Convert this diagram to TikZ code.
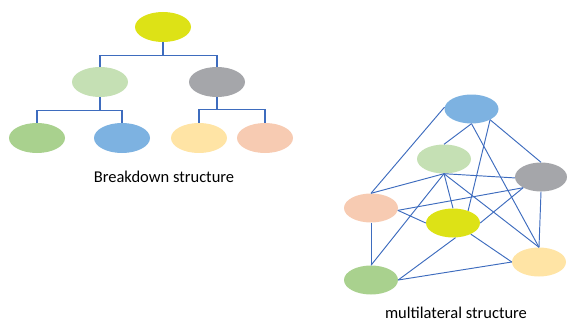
\documentclass[tikz,border=0pt]{standalone}
\usepackage{fontspec}
\setmainfont{Carlito}
\usetikzlibrary{shapes.geometric,calc}

\definecolor{cYellow}{RGB}{221,226,22}
\definecolor{cLGreen}{RGB}{197,224,180}
\definecolor{cGray}{RGB}{165,166,170}
\definecolor{cGreen}{RGB}{169,209,142}
\definecolor{cBlue}{RGB}{125,178,225}
\definecolor{cPeach}{RGB}{255,228,165}
\definecolor{cSalmon}{RGB}{247,203,178}
\definecolor{cLink}{RGB}{62,108,190}

\tikzset{
  blob/.style={ellipse, inner sep=0pt, minimum width=56pt, minimum height=30pt, draw=none},
  mblob/.style={ellipse, inner sep=0pt, minimum width=54pt, minimum height=29pt, draw=none},
  treelink/.style={draw=cLink, line width=1.2pt},
  meshlink/.style={draw=cLink, line width=0.95pt},
  caption/.style={anchor=base, inner sep=0pt, font=\fontsize{16.5}{18}\selectfont}
}

\begin{document}
\begin{tikzpicture}[x=1pt, y=-1pt]
\useasboundingbox (0,0) rectangle (567,321);

% ---- breakdown (tree) structure ----
\node[blob, fill=cYellow] (root) at (163,27) {};
\node[blob, fill=cLGreen] (midL) at (100,82) {};
\node[blob, fill=cGray]   (midR) at (217,82) {};
\node[blob, fill=cGreen]  (leaf1) at (37,138) {};
\node[blob, fill=cBlue]   (leaf2) at (122,138) {};
\node[blob, fill=cPeach]  (leaf3) at (199,138) {};
\node[blob, fill=cSalmon] (leaf4) at (265,138) {};

\coordinate (j0) at ($(root.south)+(0,13)$);
\coordinate (j1) at ($(midL.south)+(0,13)$);
\coordinate (j2) at ($(midR.south)+(0,12)$);

\draw[treelink] (root.south) -- (j0) -| (midL.north);
\draw[treelink] (j0) -| (midR.north);
\draw[treelink] (midL.south) -- (j1) -| (leaf1.north);
\draw[treelink] (j1) -| (leaf2.north);
\draw[treelink] (midR.south) -- (j2) -| (leaf3.north);
\draw[treelink] (j2) -| (leaf4.north);

\node[caption] (capA) at (164,182) {Breakdown structure};

% ---- multilateral (mesh) structure ----
\node[mblob, fill=cBlue]   (mB) at (471.5,109) {};
\node[mblob, fill=cLGreen] (mL) at (444,159) {};
\node[mblob, fill=cGray, minimum width=52pt] (mG) at (541,177) {};
\node[mblob, fill=cSalmon] (mS) at (371,208) {};
\node[mblob, fill=cYellow] (mY) at (453,223) {};
\node[mblob, fill=cPeach]  (mP) at (539,262) {};
\node[mblob, fill=cGreen]  (mN) at (371,280) {};

\draw[meshlink] (mB.176) -- (mS.north);
\draw[meshlink] (mB.south) -- (mL.north);
\draw[meshlink] (mB.-30) -- (mY.39);
\draw[meshlink] (mB.south) -- (mP.north);
\draw[meshlink] (mB.-30) -- (mG.north);
\draw[meshlink] (mL.south) -- (mS.north);
\draw[meshlink] (mL.south) -- (mG.182);
\draw[meshlink] (mL.south) -- (mY.north);
\draw[meshlink] (mL.south) -- (mN.north);
\draw[meshlink] (mL.south) -- (mP.north);
\draw[meshlink] (mG.211) -- (mS.-5);
\draw[meshlink] (mG.211) -- (mY.east);
\draw[meshlink] (mG.south) -- (mP.north);
\draw[meshlink] (mS.-5) -- (mY.west);
\draw[meshlink] (mS.south) -- (mN.north);
\draw[meshlink] (mY.-80) -- (mN.east);
\draw[meshlink] (mY.-32) -- (mP.west);
\draw[meshlink] (mN.east) -- (mP.west);

\node[caption] (capB) at (456,318) {multilateral structure};
\end{tikzpicture}
\end{document}
